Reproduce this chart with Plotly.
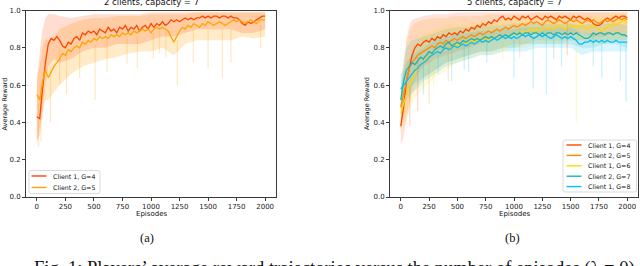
import plotly.graph_objects as go

# ---------------- data ----------------
EP = list(range(0, 2001, 25))
BAND_EP = [0, 25, 50, 75, 100, 150, 200, 300, 400, 500, 600, 700, 800, 900,
           1000, 1100, 1200, 1300, 1400, 1500, 1600, 1700, 1800, 1900, 2000]
X_TICKS = [0, 250, 500, 750, 1000, 1250, 1500, 1750, 2000]
Y_TICKS = [0.0, 0.2, 0.4, 0.6, 0.8, 1.0]

# (a) 2 clients
A_C1_G4 = [0.43, 0.42, 0.58, 0.72, 0.82, 0.85, 0.84, 0.86, 0.84, 0.81, 0.80, 0.83, 0.82, 0.85, 0.86, 0.84,
           0.88, 0.87, 0.89, 0.88, 0.89, 0.87, 0.90, 0.89, 0.88, 0.91, 0.89, 0.90, 0.88, 0.91, 0.90, 0.92,
           0.89, 0.91, 0.90, 0.92, 0.89, 0.91, 0.92, 0.90, 0.93, 0.91, 0.93, 0.92, 0.94, 0.92, 0.93, 0.95,
           0.94, 0.95, 0.94, 0.95, 0.96, 0.95, 0.96, 0.95, 0.96, 0.96, 0.97, 0.96, 0.97, 0.96, 0.97, 0.97,
           0.96, 0.97, 0.97, 0.96, 0.97, 0.96, 0.96, 0.95, 0.93, 0.92, 0.94, 0.93, 0.94, 0.95, 0.96, 0.97, 0.97]
A_C2_G5 = [0.55, 0.52, 0.62, 0.68, 0.64, 0.67, 0.70, 0.72, 0.74, 0.77, 0.76, 0.79, 0.78, 0.80, 0.81, 0.80,
           0.83, 0.82, 0.84, 0.83, 0.85, 0.84, 0.86, 0.85, 0.86, 0.85, 0.87, 0.86, 0.87, 0.86, 0.88, 0.87,
           0.88, 0.87, 0.89, 0.88, 0.89, 0.90, 0.89, 0.90, 0.88, 0.90, 0.91, 0.90, 0.91, 0.90, 0.89, 0.86,
           0.83, 0.86, 0.89, 0.91, 0.90, 0.92, 0.91, 0.93, 0.92, 0.91, 0.93, 0.92, 0.94, 0.93, 0.92, 0.93,
           0.94, 0.93, 0.92, 0.93, 0.94, 0.95, 0.94, 0.95, 0.94, 0.93, 0.94, 0.95, 0.94, 0.93, 0.95, 0.95, 0.95]
A_C1_HI = [0.60, 0.78, 0.90, 0.96, 0.98, 0.98, 0.97, 0.96, 0.97, 0.98, 0.98, 0.98, 0.98, 0.98, 0.99, 0.99,
           0.99, 0.99, 0.99, 0.99, 0.99, 0.99, 0.99, 0.99, 0.99]
A_C1_LO = [0.30, 0.33, 0.45, 0.60, 0.70, 0.74, 0.72, 0.74, 0.78, 0.80, 0.80, 0.82, 0.82, 0.82, 0.84, 0.86,
           0.86, 0.88, 0.90, 0.90, 0.90, 0.90, 0.88, 0.88, 0.90]
A_C2_HI = [0.66, 0.70, 0.80, 0.85, 0.84, 0.86, 0.90, 0.93, 0.95, 0.96, 0.96, 0.97, 0.97, 0.97, 0.98, 0.98,
           0.98, 0.98, 0.99, 0.99, 0.99, 0.99, 0.99, 0.99, 0.99]
A_C2_LO = [0.28, 0.38, 0.45, 0.52, 0.52, 0.56, 0.60, 0.66, 0.70, 0.72, 0.74, 0.75, 0.77, 0.78, 0.78, 0.80,
           0.76, 0.82, 0.84, 0.84, 0.84, 0.84, 0.86, 0.85, 0.86]
A_SPIKE_EP = [15, 35, 120, 200, 260, 375, 510, 615, 790, 880, 1020, 1075, 1130, 1230, 1370, 1500, 1625, 1700, 1960]
A_SPIKE_LO = [0.27, 0.30, 0.40, 0.60, 0.55, 0.64, 0.52, 0.67, 0.71, 0.69, 0.74, 0.77, 0.75, 0.60, 0.72, 0.69, 0.64, 0.72, 0.80]
A_SPIKE_HI = [0.50, 0.60, 0.70, 0.80, 0.78, 0.80, 0.82, 0.85, 0.86, 0.86, 0.88, 0.89, 0.89, 0.84, 0.90, 0.90, 0.90, 0.90, 0.92]

# (b) 5 clients
B_C1_G4 = [0.38, 0.48, 0.62, 0.70, 0.76, 0.80, 0.82, 0.81, 0.83, 0.84, 0.83, 0.85, 0.84, 0.86, 0.85, 0.87,
           0.86, 0.88, 0.87, 0.88, 0.87, 0.89, 0.88, 0.90, 0.89, 0.91, 0.90, 0.92, 0.91, 0.93, 0.92, 0.94,
           0.93, 0.95, 0.94, 0.96, 0.97, 0.95, 0.96, 0.95, 0.97, 0.96, 0.95, 0.97, 0.96, 0.97, 0.95, 0.96,
           0.97, 0.96, 0.95, 0.97, 0.96, 0.97, 0.96, 0.95, 0.97, 0.96, 0.97, 0.96, 0.95, 0.97, 0.96, 0.97,
           0.96, 0.95, 0.96, 0.95, 0.93, 0.92, 0.92, 0.93, 0.95, 0.96, 0.95, 0.96, 0.97, 0.96, 0.97, 0.97, 0.96]
B_C2_G5 = [0.48, 0.55, 0.63, 0.69, 0.72, 0.74, 0.76, 0.77, 0.78, 0.79, 0.80, 0.81, 0.80, 0.82, 0.83, 0.82,
           0.84, 0.83, 0.84, 0.85, 0.84, 0.85, 0.86, 0.85, 0.86, 0.87, 0.86, 0.87, 0.88, 0.87, 0.88, 0.89,
           0.88, 0.89, 0.90, 0.89, 0.90, 0.91, 0.90, 0.91, 0.92, 0.91, 0.92, 0.93, 0.92, 0.93, 0.94, 0.93,
           0.94, 0.93, 0.92, 0.94, 0.95, 0.94, 0.93, 0.94, 0.95, 0.94, 0.93, 0.94, 0.95, 0.94, 0.95, 0.94,
           0.93, 0.94, 0.95, 0.94, 0.95, 0.94, 0.93, 0.94, 0.95, 0.94, 0.95, 0.94, 0.95, 0.96, 0.95, 0.96, 0.95]
B_C1_G6 = [0.45, 0.50, 0.55, 0.60, 0.63, 0.66, 0.69, 0.71, 0.72, 0.74, 0.75, 0.76, 0.77, 0.78, 0.77, 0.79,
           0.80, 0.79, 0.81, 0.80, 0.82, 0.81, 0.82, 0.83, 0.82, 0.84, 0.83, 0.84, 0.85, 0.84, 0.85, 0.84,
           0.86, 0.85, 0.86, 0.87, 0.86, 0.87, 0.86, 0.87, 0.88, 0.87, 0.88, 0.89, 0.88, 0.89, 0.90, 0.89,
           0.90, 0.89, 0.90, 0.91, 0.90, 0.91, 0.90, 0.91, 0.92, 0.91, 0.90, 0.91, 0.92, 0.91, 0.92, 0.91,
           0.92, 0.91, 0.90, 0.91, 0.92, 0.91, 0.90, 0.89, 0.90, 0.91, 0.92, 0.93, 0.92, 0.93, 0.94, 0.95, 0.93]
B_C2_G7 = [0.52, 0.62, 0.68, 0.70, 0.72, 0.71, 0.73, 0.75, 0.74, 0.76, 0.78, 0.77, 0.79, 0.80, 0.81, 0.80,
           0.82, 0.83, 0.81, 0.82, 0.83, 0.82, 0.84, 0.83, 0.84, 0.85, 0.84, 0.85, 0.84, 0.85, 0.86, 0.85,
           0.86, 0.85, 0.86, 0.87, 0.86, 0.87, 0.86, 0.87, 0.88, 0.87, 0.88, 0.87, 0.88, 0.88, 0.87, 0.88,
           0.88, 0.87, 0.88, 0.87, 0.88, 0.88, 0.87, 0.88, 0.88, 0.87, 0.88, 0.87, 0.88, 0.87, 0.88, 0.87,
           0.86, 0.85, 0.85, 0.86, 0.88, 0.87, 0.88, 0.88, 0.87, 0.88, 0.88, 0.87, 0.88, 0.88, 0.87, 0.87, 0.86]
B_C1_G8 = [0.58, 0.60, 0.62, 0.64, 0.66, 0.68, 0.69, 0.71, 0.72, 0.73, 0.75, 0.76, 0.77, 0.78, 0.77, 0.79,
           0.80, 0.79, 0.80, 0.81, 0.80, 0.81, 0.82, 0.81, 0.82, 0.83, 0.82, 0.83, 0.84, 0.83, 0.84, 0.83,
           0.84, 0.85, 0.84, 0.85, 0.86, 0.85, 0.86, 0.85, 0.86, 0.85, 0.86, 0.87, 0.86, 0.87, 0.86, 0.85,
           0.86, 0.87, 0.86, 0.87, 0.86, 0.85, 0.86, 0.87, 0.86, 0.85, 0.86, 0.85, 0.86, 0.85, 0.84, 0.82,
           0.82, 0.83, 0.83, 0.84, 0.83, 0.84, 0.83, 0.84, 0.83, 0.84, 0.83, 0.83, 0.84, 0.83, 0.83, 0.83, 0.83]
B_C1_G4_HI = [0.50, 0.70, 0.85, 0.92, 0.95, 0.96, 0.97, 0.98, 0.98, 0.99, 0.99, 0.99, 0.99, 0.99, 0.99, 0.99,
              0.99, 0.99, 0.99, 0.99, 0.99, 0.99, 0.99, 0.99, 0.99]
B_C1_G4_LO = [0.28, 0.32, 0.42, 0.50, 0.58, 0.66, 0.70, 0.74, 0.76, 0.78, 0.80, 0.82, 0.84, 0.86, 0.88, 0.88,
              0.88, 0.88, 0.88, 0.88, 0.88, 0.86, 0.86, 0.88, 0.88]
B_C2_G5_HI = [0.58, 0.72, 0.82, 0.88, 0.92, 0.94, 0.95, 0.96, 0.96, 0.97, 0.97, 0.97, 0.98, 0.98, 0.98, 0.98,
              0.99, 0.99, 0.99, 0.99, 0.99, 0.99, 0.99, 0.99, 0.99]
B_C2_G5_LO = [0.36, 0.40, 0.45, 0.50, 0.55, 0.60, 0.64, 0.68, 0.72, 0.74, 0.76, 0.78, 0.78, 0.80, 0.82, 0.82,
              0.84, 0.84, 0.84, 0.84, 0.84, 0.84, 0.84, 0.84, 0.84]
B_C1_G6_HI = [0.58, 0.65, 0.72, 0.76, 0.80, 0.84, 0.87, 0.90, 0.92, 0.93, 0.93, 0.94, 0.94, 0.95, 0.96, 0.96,
              0.96, 0.97, 0.97, 0.97, 0.97, 0.97, 0.97, 0.98, 0.98]
B_C1_G6_LO = [0.34, 0.38, 0.42, 0.46, 0.50, 0.55, 0.58, 0.64, 0.68, 0.72, 0.74, 0.76, 0.76, 0.78, 0.80, 0.80,
              0.82, 0.82, 0.82, 0.84, 0.84, 0.82, 0.82, 0.84, 0.84]
B_C2_G7_HI = [0.62, 0.74, 0.80, 0.82, 0.84, 0.85, 0.86, 0.88, 0.90, 0.91, 0.91, 0.92, 0.92, 0.92, 0.93, 0.93,
              0.93, 0.93, 0.93, 0.93, 0.92, 0.93, 0.93, 0.93, 0.92]
B_C2_G7_LO = [0.36, 0.48, 0.55, 0.58, 0.60, 0.62, 0.64, 0.68, 0.72, 0.74, 0.76, 0.78, 0.78, 0.80, 0.80, 0.82,
              0.82, 0.82, 0.82, 0.82, 0.80, 0.80, 0.82, 0.82, 0.80]
B_C1_G8_HI = [0.66, 0.68, 0.72, 0.74, 0.76, 0.78, 0.80, 0.84, 0.86, 0.87, 0.88, 0.89, 0.89, 0.90, 0.90, 0.91,
              0.91, 0.91, 0.91, 0.91, 0.88, 0.88, 0.88, 0.88, 0.88]
B_C1_G8_LO = [0.48, 0.50, 0.52, 0.54, 0.56, 0.58, 0.62, 0.66, 0.70, 0.72, 0.74, 0.76, 0.76, 0.78, 0.78, 0.78,
              0.80, 0.80, 0.80, 0.80, 0.76, 0.78, 0.78, 0.78, 0.78]
# spikes: (series index, episode, low, high)
B_SPIKE_SER = [4, 4, 4, 4, 4, 4, 4, 4, 4, 4, 4, 2, 2, 2, 0, 0, 1, 1, 1, 0, 3, 3, 3, 3]
B_SPIKE_EP = [330, 450, 600, 760, 1000, 1170, 1285, 1420, 1775, 1940, 1990, 1550, 900, 290,
              80, 150, 250, 420, 1050, 1470, 200, 560, 1350, 1700]
B_SPIKE_LO = [0.66, 0.62, 0.67, 0.72, 0.64, 0.58, 0.55, 0.70, 0.64, 0.62, 0.51, 0.40, 0.74, 0.60,
              0.38, 0.46, 0.50, 0.62, 0.75, 0.76, 0.55, 0.68, 0.74, 0.70]
B_SPIKE_HI = [0.78, 0.80, 0.82, 0.83, 0.85, 0.86, 0.86, 0.85, 0.83, 0.83, 0.83, 0.92, 0.86, 0.76,
              0.60, 0.75, 0.78, 0.82, 0.92, 0.94, 0.74, 0.83, 0.87, 0.87]

A_NAMES = ["Client 1, G=4", "Client 2, G=5"]
B_NAMES = ["Client 1, G=4", "Client 2, G=5", "Client 1, G=6", "Client 2, G=7", "Client 1, G=8"]

# ---------------- styles ----------------
A_COLORS = ["#FF4500", "#FFA500"]
B_COLORS = ["#FF4500", "#FF8C00", "#FFD700", "#20B2AA", "#00BFFF"]


def rgba(hexc, a):
    h = hexc.lstrip("#")
    return "rgba(%d,%d,%d,%.3f)" % (int(h[0:2], 16), int(h[2:4], 16), int(h[4:6], 16), a)


W, H = 640, 266
fig = go.Figure()


def add_band(xa, ya, hi, lo, color, alpha):
    fig.add_trace(go.Scatter(
        x=BAND_EP + BAND_EP[::-1], y=hi + lo[::-1], fill="toself",
        fillcolor=rgba(color, alpha), line=dict(width=0), mode="lines",
        showlegend=False, hoverinfo="skip", xaxis=xa, yaxis=ya))


def add_spikes(xa, ya, eps, los, his, color, alpha):
    xs, ys = [], []
    for e, lo, hi in zip(eps, los, his):
        xs += [e, e, None]
        ys += [lo, hi, None]
    fig.add_trace(go.Scatter(x=xs, y=ys, mode="lines",
                             line=dict(color=rgba(color, alpha), width=1.2),
                             showlegend=False, hoverinfo="skip", xaxis=xa, yaxis=ya))


# ---- panel (a)
add_band("x", "y", A_C2_HI, A_C2_LO, A_COLORS[1], 0.22)
add_band("x", "y", A_C1_HI, A_C1_LO, A_COLORS[0], 0.18)
add_spikes("x", "y", A_SPIKE_EP, A_SPIKE_LO, A_SPIKE_HI, A_COLORS[1], 0.25)
for name, ys, c in zip(A_NAMES, [A_C1_G4, A_C2_G5], A_COLORS):
    fig.add_trace(go.Scatter(x=EP, y=ys, mode="lines", name=name, showlegend=False,
                             line=dict(color=c, width=1.3), xaxis="x", yaxis="y"))

# ---- panel (b)
b_series = [B_C1_G4, B_C2_G5, B_C1_G6, B_C2_G7, B_C1_G8]
b_hi = [B_C1_G4_HI, B_C2_G5_HI, B_C1_G6_HI, B_C2_G7_HI, B_C1_G8_HI]
b_lo = [B_C1_G4_LO, B_C2_G5_LO, B_C1_G6_LO, B_C2_G7_LO, B_C1_G8_LO]
for hi, lo, c in zip(b_hi, b_lo, B_COLORS):
    add_band("x2", "y2", hi, lo, c, 0.15)
for k, c in enumerate(B_COLORS):
    idx = [i for i, s in enumerate(B_SPIKE_SER) if s == k]
    add_spikes("x2", "y2", [B_SPIKE_EP[i] for i in idx], [B_SPIKE_LO[i] for i in idx],
               [B_SPIKE_HI[i] for i in idx], c, 0.22)
for name, ys, c in zip(B_NAMES, b_series, B_COLORS):
    fig.add_trace(go.Scatter(x=EP, y=ys, mode="lines", name=name, showlegend=False,
                             line=dict(color=c, width=1.3), xaxis="x2", yaxis="y2"))

# ---------------- layout ----------------
def px_x(p):
    return p / W


def px_y(p):
    return 1 - p / H


ax_common = dict(showgrid=False, zeroline=False, showline=True, mirror=True,
                 linecolor="#3a3a3a", linewidth=0.9, ticks="outside", ticklen=3,
                 tickwidth=0.8, tickcolor="#3a3a3a", automargin=False,
                 tickfont=dict(family="DejaVu Sans", size=7, color="#222"))
X_RANGE = [-95, 2095]
Y_DOM = [px_y(197), px_y(10.5)]

fig.update_layout(
    width=W, height=H, margin=dict(l=0, r=0, t=0, b=0, autoexpand=False),
    paper_bgcolor="white", plot_bgcolor="white", showlegend=False,
    xaxis=dict(domain=[px_x(26), px_x(276)], range=X_RANGE, tickvals=X_TICKS, anchor="y", **ax_common),
    yaxis=dict(domain=Y_DOM, range=[0, 1], tickvals=Y_TICKS, tickformat=".1f", anchor="x", **ax_common),
    xaxis2=dict(domain=[px_x(390), px_x(638)], range=X_RANGE, tickvals=X_TICKS, anchor="y2", **ax_common),
    yaxis2=dict(domain=Y_DOM, range=[0, 1], tickvals=Y_TICKS, tickformat=".1f", anchor="x2", **ax_common),
)

ann = []
shapes = []
sans = dict(family="DejaVu Sans", color="#111")
serif = dict(family="Liberation Serif", color="#111")


def rounded_rect(x0, y0, x1, y1, r):
    X = lambda p: "%.5f" % px_x(p)
    Y = lambda p: "%.5f" % px_y(p)
    return ("M %s,%s L %s,%s Q %s,%s %s,%s L %s,%s Q %s,%s %s,%s L %s,%s Q %s,%s %s,%s "
            "L %s,%s Q %s,%s %s,%s Z") % (
        X(x0 + r), Y(y0), X(x1 - r), Y(y0), X(x1), Y(y0), X(x1), Y(y0 + r),
        X(x1), Y(y1 - r), X(x1), Y(y1), X(x1 - r), Y(y1),
        X(x0 + r), Y(y1), X(x0), Y(y1), X(x0), Y(y1 - r),
        X(x0), Y(y0 + r), X(x0), Y(y0), X(x0 + r), Y(y0))


def legend_box(x0, y0, x1, y1, row_y, lx0, lx1, tx, names, colors):
    shapes.append(dict(type="path", path=rounded_rect(x0, y0, x1, y1, 2), xref="paper", yref="paper",
                       fillcolor="rgba(255,255,255,0.85)", line=dict(color="#d0d0d0", width=0.8)))
    for ry, nm, c in zip(row_y, names, colors):
        shapes.append(dict(type="line", xref="paper", yref="paper", x0=px_x(lx0), x1=px_x(lx1),
                           y0=px_y(ry), y1=px_y(ry), line=dict(color=c, width=1.4)))
        ann.append(dict(text=nm, x=px_x(tx), y=px_y(ry), xanchor="left", yanchor="middle",
                        font=dict(size=6.3, **sans)))


legend_box(29, 170.5, 100, 193.5, [176, 187.5], 31.5, 46.5, 51, A_NAMES, A_COLORS)
legend_box(563, 140, 636.5, 192, [145, 155.4, 165.8, 176.2, 186.6], 566.5, 581.5, 586, B_NAMES, B_COLORS)

ann.append(dict(text="2 clients, capacity = 7", x=px_x(151), y=px_y(9.5), xanchor="center", yanchor="bottom",
                font=dict(size=8.5, **sans)))
ann.append(dict(text="5 clients, capacity = 7", x=px_x(514), y=px_y(9.5), xanchor="center", yanchor="bottom",
                font=dict(size=8.5, **sans)))
for xc in (151, 514):
    ann.append(dict(text="Episodes", x=px_x(xc), y=px_y(214), xanchor="center", yanchor="middle",
                    font=dict(size=7, **sans)))
for xc in (4.5, 367):
    ann.append(dict(text="Average Reward", x=px_x(xc), y=px_y(104), xanchor="center", yanchor="middle",
                    textangle=-90, font=dict(size=6.5, **sans)))
ann.append(dict(text="(a)", x=px_x(147), y=px_y(238), xanchor="center", yanchor="middle",
                font=dict(size=12.5, **serif)))
ann.append(dict(text="(b)", x=px_x(512), y=px_y(238), xanchor="center", yanchor="middle",
                font=dict(size=12.5, **serif)))
ann.append(dict(text="Fig. 1: Players’ average reward trajectories versus the number of episodes (λ = 0)",
                x=px_x(334), y=px_y(256), xanchor="center", yanchor="top",
                font=dict(size=18.5, **serif)))
for a in ann:
    a.update(xref="paper", yref="paper", showarrow=False)
fig.update_layout(annotations=ann, shapes=shapes)

fig.write_html("out.html", config={"displayModeBar": False},
               post_script="document.body.style.margin='0';document.body.style.overflow='hidden';")
